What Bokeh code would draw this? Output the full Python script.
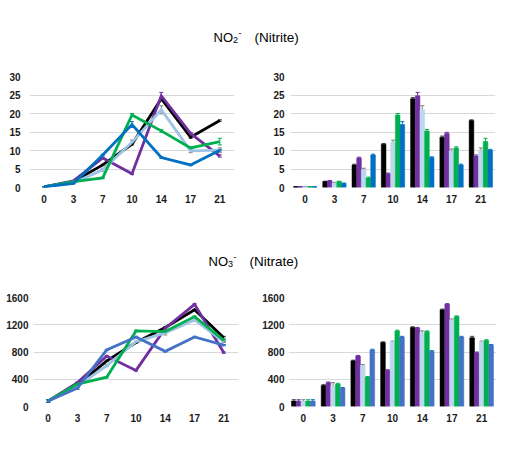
from bokeh.plotting import figure
from bokeh.layouts import column, row
from bokeh.models import FactorRange, Range1d, ColumnDataSource, Whisker, TeeHead, FixedTicker
from bokeh.transform import dodge
from bokeh.core.properties import value
from bokeh.embed import file_html
from bokeh.resources import INLINE

days = ["0", "3", "7", "10", "14", "17", "21"]
series = ["black", "purple", "lightblue", "green", "blue"]

nitrite = {
    "black":     [0.2, 1.6, 6.1, 11.7, 24.0, 13.6, 18.1],
    "purple":    [0.2, 1.8, 8.0, 3.7, 24.8, 14.6, 8.5],
    "lightblue": [0.2, 1.2, 4.8, 12.2, 21.0, 9.9, 10.1],
    "green":     [0.2, 1.6, 2.6, 19.6, 15.3, 10.7, 12.4],
    "blue":      [0.2, 1.1, 8.8, 17.0, 8.1, 6.1, 10.1],
}
nitrite_err = {
    "black":     [0.05, 0.1, 0.2, 0.2, 0.3, 0.3, 0.2],
    "purple":    [0.05, 0.1, 0.2, 0.2, 0.9, 0.3, 0.3],
    "lightblue": [0.05, 0.2, 0.4, 0.6, 1.1, 0.5, 0.6],
    "green":     [0.05, 0.1, 0.2, 0.4, 0.4, 0.3, 0.9],
    "blue":      [0.05, 0.1, 0.2, 0.8, 0.2, 0.2, 0.2],
}
nitrate = {
    "black":     [80, 310, 670, 940, 1160, 1420, 1010],
    "purple":    [80, 350, 740, 530, 1150, 1500, 790],
    "lightblue": [80, 300, 600, 950, 1080, 1270, 950],
    "green":     [80, 330, 430, 1110, 1100, 1320, 970],
    "blue":      [80, 270, 830, 1020, 810, 1020, 900],
}
nitrate_err = {
    "black":     [20, 10, 10, 10, 10, 10, 20],
    "purple":    [20, 10, 10, 10, 10, 10, 10],
    "lightblue": [20, 50, 15, 10, 30, 15, 10],
    "green":     [20, 10, 10, 10, 10, 10, 10],
    "blue":      [20, 10, 10, 10, 10, 10, 10],
}

nitrite_ticks = [0, 5, 10, 15, 20, 25, 30]
nitrate_ticks = [0, 400, 800, 1200, 1600]

title1_parts = ["NO", "2", "-", "(Nitrite)"]
title2_parts = ["NO", "3", "-", "(Nitrate)"]

line_colors_top = {"black": "#000000", "purple": "#7030A0", "lightblue": "#9DC3E6",
                   "green": "#00B050", "blue": "#0070C0"}
bar_colors_top = {"black": "#000000", "purple": "#7030A0", "lightblue": "#BDD7EE",
                  "green": "#00B050", "blue": "#0070C0"}
line_colors_bot = dict(line_colors_top, blue="#4472C4")
bar_colors_bot = dict(bar_colors_top, blue="#4472C4")
err_colors = {"black": "#404040", "purple": "#7030A0", "lightblue": "#7F7F7F",
              "green": "#00B050", "blue": "#0070C0"}

FONT = "Liberation Sans"
offsets = [-0.32, -0.16, 0.0, 0.16, 0.32]


def base_fig(ymax, ticks, fw, fh, bl, br, bt, bb, ystandoff):
    p = figure(x_range=FactorRange(*days, range_padding=0), y_range=Range1d(0, ymax),
               frame_width=fw, frame_height=fh, min_border_left=bl, min_border_right=br,
               min_border_top=bt, min_border_bottom=bb, output_backend="svg",
               toolbar_location=None, tools="")
    p.outline_line_color = None
    p.background_fill_color = "white"
    p.xgrid.grid_line_color = None
    p.ygrid.grid_line_color = "#D9D9D9"
    p.ygrid.grid_line_width = 1
    p.yaxis.ticker = FixedTicker(ticks=ticks)
    for ax in (p.xaxis[0], p.yaxis[0]):
        ax.axis_line_color = None
        ax.major_tick_line_color = None
        ax.minor_tick_line_color = None
        ax.major_tick_out = 0
        ax.major_tick_in = 0
        ax.minor_tick_out = 0
        ax.minor_tick_in = 0
        ax.major_label_text_font = FONT
        ax.major_label_text_font_size = "10px"
        ax.major_label_text_font_style = "bold"
        ax.major_label_text_color = "#1A1A1A"
    p.yaxis.major_label_standoff = ystandoff
    p.xaxis.major_label_standoff = 7
    return p


def line_panel(data, err, colors, ymax, ticks, fw, fh, bl, br, bt, bb, ystandoff):
    p = base_fig(ymax, ticks, fw, fh, bl, br, bt, bb, ystandoff)
    for s in series:
        src = ColumnDataSource(dict(day=days, y=data[s],
                                    upper=[v + e for v, e in zip(data[s], err[s])],
                                    lower=[v - e for v, e in zip(data[s], err[s])]))
        p.line("day", "y", source=src, line_color=colors[s], line_width=2.8,
               line_join="miter")
        p.add_layout(Whisker(base="day", upper="upper", lower="lower", source=src,
                             line_color=err_colors[s], line_width=1,
                             upper_head=TeeHead(size=4, line_color=err_colors[s], line_width=1),
                             lower_head=TeeHead(size=4, line_color=err_colors[s], line_width=1)))
    return p


def bar_panel(data, err, colors, ymax, ticks, fw, fh, bl, br, bt, bb, ystandoff):
    p = base_fig(ymax, ticks, fw, fh, bl, br, bt, bb, ystandoff)
    for s, off in zip(series, offsets):
        src = ColumnDataSource(dict(day=days, y=data[s],
                                    upper=[v + e for v, e in zip(data[s], err[s])],
                                    lower=[v - e for v, e in zip(data[s], err[s])]))
        p.vbar(x=dodge("day", off, range=p.x_range), top="y", width=0.16, source=src,
               fill_color=colors[s], line_color=colors[s], line_width=0.5)
        p.add_layout(Whisker(base=dodge("day", off, range=p.x_range), upper="upper",
                             lower="lower", source=src,
                             line_color=err_colors[s], line_width=1,
                             upper_head=TeeHead(size=4, line_color=err_colors[s], line_width=1),
                             lower_head=TeeHead(size=4, line_color=err_colors[s], line_width=1)))
    return p


def title_fig(parts, h, x0, baseline):
    t = figure(width=519, height=h, x_range=Range1d(0, 519), y_range=Range1d(h, 0),
               x_axis_location=None, y_axis_location=None, min_border=0,
               output_backend="svg", toolbar_location=None, tools="")
    t.outline_line_color = None
    t.xgrid.visible = False
    t.ygrid.visible = False
    t.text(x=[x0], y=[baseline], text=[parts[0]], text_font=value(FONT),
           text_font_size=value("13px"), text_baseline="alphabetic", text_color="#000000")
    t.text(x=[x0 + 19.5], y=[baseline + 2.5], text=[parts[1]], text_font=value(FONT),
           text_font_size=value("9px"), text_baseline="alphabetic", text_color="#000000")
    t.text(x=[x0 + 25], y=[baseline - 5], text=[parts[2]], text_font=value(FONT),
           text_font_size=value("9px"), text_baseline="alphabetic", text_color="#000000")
    t.text(x=[x0 + 41], y=[baseline], text=[parts[3]], text_font=value(FONT),
           text_font_size=value("13.5px"), text_baseline="alphabetic", text_color="#000000")
    return t


t1 = title_fig(title1_parts, 67, 213, 37)
p1 = line_panel(nitrite, nitrite_err, line_colors_top, 30, nitrite_ticks,
                205, 111, 29, 23, 9, 30, 9)
p2 = bar_panel(nitrite, nitrite_err, bar_colors_top, 30, nitrite_ticks,
               205, 111, 33, 24, 9, 30, 6)
t2 = title_fig(title2_parts, 65, 208, 44)
p3 = line_panel(nitrate, nitrate_err, line_colors_bot, 1600, nitrate_ticks,
                205, 109, 33, 21, 15, 30, 5)
p4 = bar_panel(nitrate, nitrate_err, bar_colors_bot, 1600, nitrate_ticks,
               208, 109, 26, 25, 15, 30, 4)

layout = column(t1, row(p1, p2), t2, row(p3, p4), spacing=0)
layout.children[1].spacing = 0
layout.children[3].spacing = 0

open("out.html", "w").write(file_html(layout, INLINE))
